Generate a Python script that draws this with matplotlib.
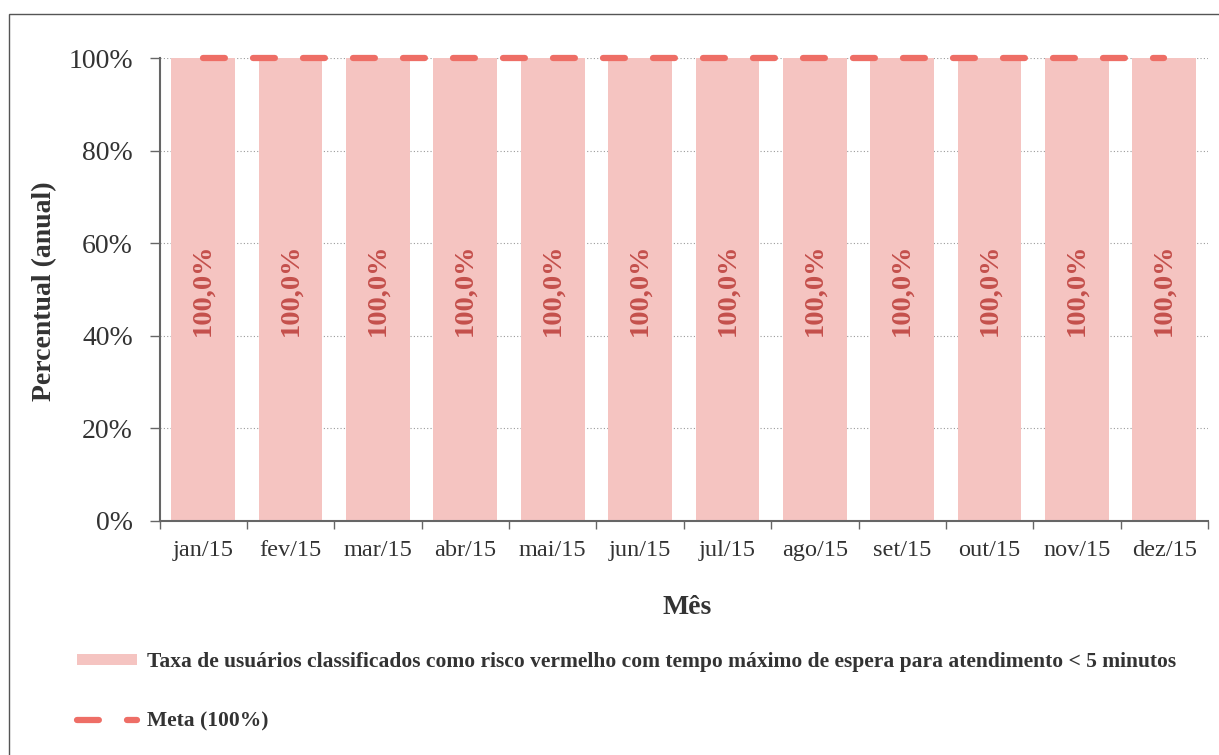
import matplotlib
matplotlib.use("Agg")
import matplotlib.pyplot as plt
from matplotlib.lines import Line2D
from matplotlib.patches import Patch
from matplotlib.ticker import FuncFormatter, FixedLocator

# ---- data ----------------------------------------------------------------
months = ["jan/15", "fev/15", "mar/15", "abr/15", "mai/15", "jun/15",
          "jul/15", "ago/15", "set/15", "out/15", "nov/15", "dez/15"]
taxa = [100.0] * 12          # % usuários risco vermelho atendidos < 5 min
meta = [100.0] * 12          # meta mensal
y_ticks = [0, 20, 40, 60, 80, 100]

bar_label = "Taxa de usuários classificados como risco vermelho com tempo máximo de espera para atendimento < 5 minutos"
meta_label = "Meta (100%)"

# ---- style ---------------------------------------------------------------
BAR_COLOR = "#F5C4C1"
META_COLOR = "#EE6E66"
LABEL_COLOR = "#C4504C"
TEXT_COLOR = "#333333"
plt.rcParams["font.family"] = ["Liberation Serif", "DejaVu Serif"]

fig = plt.figure(figsize=(12.19, 7.55), dpi=100)
ax = fig.add_axes([159.5 / 1219, 1 - 521 / 755, (1208 - 159.5) / 1219, (521 - 58) / 755])

x = list(range(len(months)))
ax.bar(x, taxa, width=0.73, color=BAR_COLOR, zorder=2)
ax.plot(x, meta, color=META_COLOR, lw=4.5, dashes=(3.5, 4.5),
        solid_capstyle="round", dash_capstyle="round", zorder=3, clip_on=False)

for xi, v in zip(x, taxa):
    ax.text(xi, v / 2, f"{v:.1f}%".replace(".", ","), rotation=90,
            ha="center", va="center", fontsize=20.5, fontweight="bold",
            color=LABEL_COLOR, zorder=4)

ax.set_xlim(-0.5, len(months) - 0.5)
ax.set_ylim(0, 100)
ax.set_yticks(y_ticks)
ax.yaxis.set_major_formatter(FuncFormatter(lambda v, _: f"{v:.0f}%"))
ax.tick_params(axis="y", length=7, width=1, color="#666666", pad=12,
               labelsize=20, labelcolor=TEXT_COLOR)
ax.grid(axis="y", color="#9a9a9a", linestyle=(0, (1, 2)), linewidth=0.8, zorder=1)

# ticks at month boundaries, labels at month centres
ax.xaxis.set_major_locator(FixedLocator([i - 0.5 for i in range(len(months) + 1)]))
ax.xaxis.set_major_formatter(FuncFormatter(lambda v, _: ""))
ax.xaxis.set_minor_locator(FixedLocator(x))
ax.set_xticklabels(months, minor=True)
ax.tick_params(axis="x", which="major", length=6, width=1, color="#666666")
ax.tick_params(axis="x", which="minor", length=0, pad=14, labelsize=17.5,
               labelcolor=TEXT_COLOR)

for side in ("top", "right"):
    ax.spines[side].set_visible(False)
for side in ("left", "bottom"):
    ax.spines[side].set_color("#666666")
    ax.spines[side].set_linewidth(1.5)

fig.text(45 / 1219, 1 - 291 / 755, "Percentual (anual)", rotation=90,
         ha="center", va="center", fontsize=20, fontweight="bold", color=TEXT_COLOR)
fig.text(687 / 1219, 1 - 607 / 755, "Mês", ha="center", va="center",
         fontsize=20, fontweight="bold", color=TEXT_COLOR)

handles = [
    Patch(facecolor=BAR_COLOR, edgecolor="none"),
    Line2D([0], [0], color=META_COLOR, lw=4.5, dashes=(3.5, 4.5),
           dash_capstyle="round"),
]
fig.legend(handles, [bar_label, meta_label], loc="upper left",
           bbox_to_anchor=(77 / 1219, 1 - 652 / 755), frameon=False,
           prop={"size": 15.5, "weight": "bold"}, labelcolor=TEXT_COLOR,
           handlelength=2.8, handleheight=0.45, handletextpad=0.45,
           labelspacing=1.85, borderaxespad=0, borderpad=0)

# thin frame around the chart area (bottom/right run off the page)
fig.add_artist(plt.Rectangle((9 / 1219, -0.05), 1.2, 1 - 14 / 755 + 0.05,
                             transform=fig.transFigure, fill=False,
                             edgecolor="#555555", linewidth=1.0))

fig.savefig("out.png", dpi=100)
